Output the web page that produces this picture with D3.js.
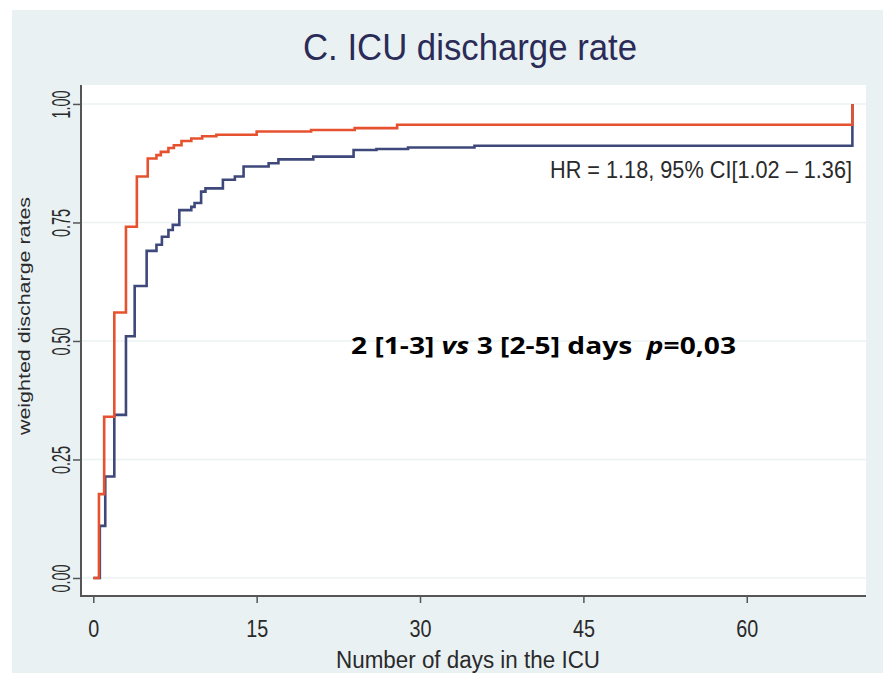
<!DOCTYPE html>
<html>
<head>
<meta charset="utf-8">
<script src="https://cdn.jsdelivr.net/npm/d3@7"></script>
<style>
  html, body { margin: 0; padding: 0; background: #ffffff; }
  svg { display: block; }
</style>
</head>
<body>
<svg id="chart" width="883" height="673"></svg>
<script>
// Kaplan-Meier style cumulative discharge curves (days in ICU)
const redDays  = [0, 0.52, 1.0, 1.93, 3.0, 4.0, 5.0, 5.8, 6.2, 6.9, 7.4, 8.1, 9.0, 10.0, 11.3, 15.0, 20.0, 24.0, 27.9, 69.7];
const redRate  = [0, 0.177, 0.34, 0.56, 0.741, 0.847, 0.885, 0.892, 0.899, 0.907, 0.913, 0.922, 0.927, 0.932, 0.935, 0.942, 0.945, 0.949, 0.956, 1.0];

const blueDays = [0, 0.6, 1.1, 1.93, 3.0, 3.8, 4.9, 5.8, 6.3, 6.9, 7.3, 7.9, 9.0, 9.3, 9.9, 10.3, 11.9, 13.0, 13.8, 16.1, 17.0, 20.2, 23.9, 26.0, 28.9, 35.0, 69.7];
const blueRate = [0, 0.11, 0.214, 0.344, 0.51, 0.616, 0.69, 0.703, 0.72, 0.734, 0.745, 0.776, 0.783, 0.791, 0.815, 0.822, 0.84, 0.847, 0.868, 0.875, 0.883, 0.889, 0.903, 0.905, 0.908, 0.912, 1.0];

const xTicks = [0, 15, 30, 45, 60];
const yTicks = [0, 0.25, 0.5, 0.75, 1.0];

const titleText = "C. ICU discharge rate";
const xTitle = "Number of days in the ICU";
const yTitle = "weighted discharge rates";
const hrText = "HR = 1.18, 95% CI[1.02 \u2013 1.36]";

const svg = d3.select("#chart");
const W = 883, H = 673;
const sans = "Liberation Sans, Arial, sans-serif";

// plot region
const plot = { left: 80, right: 866, top: 85, bottom: 596 };

const x = d3.scaleLinear().domain([-1.22, 70.95]).range([plot.left, plot.right]);
const y = d3.scaleLinear().domain([-0.038, 1.04]).range([plot.bottom, plot.top]);

// figure background
svg.append("rect").attr("x", 0).attr("y", 0).attr("width", W).attr("height", H).attr("fill", "#ffffff");
svg.append("rect").attr("x", 12).attr("y", 10).attr("width", W - 12).attr("height", H - 10).attr("fill", "#e9f1f3");
svg.append("rect")
  .attr("x", plot.left).attr("y", plot.top)
  .attr("width", plot.right - plot.left).attr("height", plot.bottom - plot.top)
  .attr("fill", "#ffffff");

// horizontal grid
svg.append("g").selectAll("line").data(yTicks).join("line")
  .attr("x1", plot.left).attr("x2", plot.right)
  .attr("y1", d => y(d)).attr("y2", d => y(d))
  .attr("stroke", "#ebf2f2").attr("stroke-width", 1.6);

// title
svg.append("text")
  .attr("x", 470).attr("y", 60)
  .attr("text-anchor", "middle")
  .attr("font-family", sans)
  .attr("font-size", 37)
  .attr("fill", "#2b2b58")
  .attr("textLength", 334).attr("lengthAdjust", "spacingAndGlyphs")
  .text(titleText);

// y axis
const yAxis = d3.axisLeft(y).tickValues(yTicks).tickFormat(d3.format(".2f")).tickSize(8).tickPadding(6);
const gy = svg.append("g").attr("transform", `translate(${plot.left + 1},0)`).call(yAxis);
gy.select(".domain").attr("stroke", "#555").attr("stroke-width", 2).attr("d", `M0,${plot.top}V${plot.bottom}`);
gy.selectAll(".tick line").attr("stroke", "#555").attr("stroke-width", 1.5);
gy.selectAll(".tick text")
  .attr("font-family", sans)
  .attr("font-size", 25)
  .attr("fill", "#2a2a2a")
  .attr("text-anchor", "middle")
  .attr("x", 0).attr("dy", 0)
  .attr("textLength", 28).attr("lengthAdjust", "spacingAndGlyphs")
  .attr("transform", "translate(-11,0) rotate(-90)");

// x axis
const xAxis = d3.axisBottom(x).tickValues(xTicks).tickSize(7).tickPadding(15);
const gx = svg.append("g").attr("transform", `translate(0,${plot.bottom})`).call(xAxis);
gx.select(".domain").attr("stroke", "#555").attr("stroke-width", 2).attr("d", `M${plot.left},0H${plot.right}`);
gx.selectAll(".tick line").attr("stroke", "#555").attr("stroke-width", 1.5);
gx.selectAll(".tick text")
  .attr("font-family", sans)
  .attr("font-size", 24)
  .attr("fill", "#2a2a2a")
  .attr("dy", "0.8em")
  .attr("textLength", d => String(d).length * 11)
  .attr("lengthAdjust", "spacingAndGlyphs");

// axis titles
svg.append("text")
  .attr("x", 468).attr("y", 668)
  .attr("text-anchor", "middle")
  .attr("font-family", sans)
  .attr("font-size", 23)
  .attr("fill", "#2a2a2a")
  .attr("textLength", 264).attr("lengthAdjust", "spacingAndGlyphs")
  .text(xTitle);

svg.append("text")
  .attr("transform", "translate(30,316) rotate(-90)")
  .attr("text-anchor", "middle")
  .attr("font-family", sans)
  .attr("font-size", 16)
  .attr("fill", "#2a2a2a")
  .attr("textLength", 238).attr("lengthAdjust", "spacingAndGlyphs")
  .text(yTitle);

// step curves
const step = d3.line().x(d => x(d[0])).y(d => y(d[1])).curve(d3.curveStepAfter);
const blueData = blueDays.map((d, i) => [d, blueRate[i]]);
const redData = redDays.map((d, i) => [d, redRate[i]]);

svg.append("path").datum(blueData)
  .attr("d", step).attr("fill", "none")
  .attr("stroke", "#3e487b").attr("stroke-width", 2.6);
svg.append("path").datum(redData)
  .attr("d", step).attr("fill", "none")
  .attr("stroke", "#e6512f").attr("stroke-width", 2.6);

// hazard ratio note
svg.append("text")
  .attr("x", 852).attr("y", 178)
  .attr("text-anchor", "end")
  .attr("font-family", sans)
  .attr("font-size", 24)
  .attr("fill", "#2a2a2a")
  .attr("textLength", 302).attr("lengthAdjust", "spacingAndGlyphs")
  .text(hrText);

// median stay comparison
const note = svg.append("text")
  .attr("x", 351).attr("y", 354)
  .attr("font-family", "Open Sans, Noto Sans, sans-serif")
  .attr("font-size", 24)
  .attr("font-weight", "bold")
  .attr("fill", "#000")
  .attr("textLength", 385).attr("lengthAdjust", "spacingAndGlyphs");
note.append("tspan").text("2 [1-3] ");
note.append("tspan").attr("font-style", "italic").text("vs");
note.append("tspan").text(" 3 [2-5] days\u00a0\u00a0");
note.append("tspan").attr("font-style", "italic").text("p");
note.append("tspan").text("=0,03");
</script>
</body>
</html>
